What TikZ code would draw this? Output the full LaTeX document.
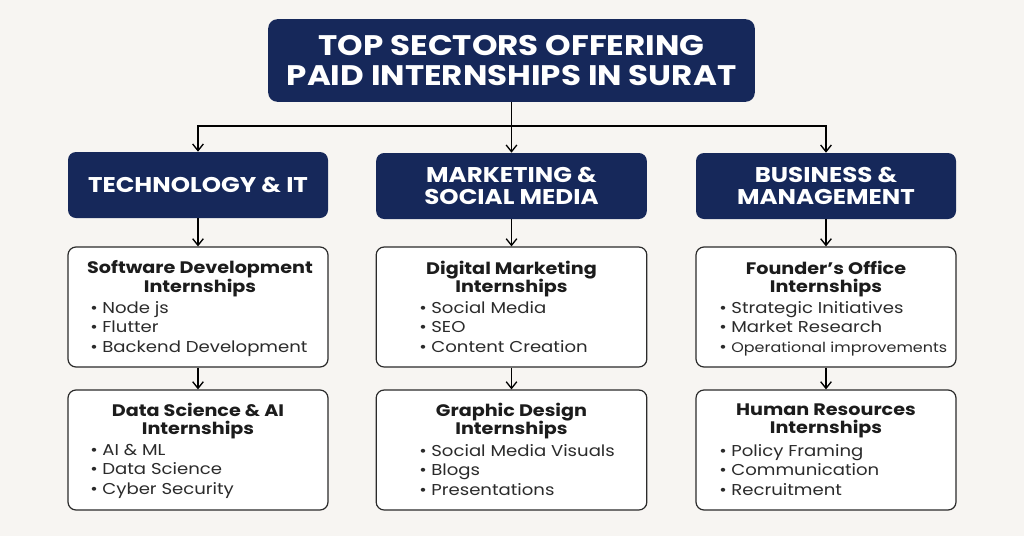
\documentclass[tikz,border=0pt]{standalone}
\usepackage{fontspec}
\setmainfont{Poppins}[FakeStretch=1.15]
\usetikzlibrary{arrows.meta}
\definecolor{navy}{HTML}{16285A}
\definecolor{bg}{HTML}{F7F5F2}
\definecolor{txt}{HTML}{2B2B2B}
\definecolor{head}{HTML}{1C1C1C}
\newcommand{\bul}{•\hspace{3.5pt}}
\begin{document}
\begin{tikzpicture}[x=0.75pt,y=-0.75pt,
  titlebox/.style={fill=navy,rounded corners=7pt,text=white,font=\bfseries\fontsize{21.2}{23}\selectfont,align=center,inner sep=0pt},
  catbox/.style={fill=navy,rounded corners=6pt,text=white,font=\bfseries\fontsize{16}{16.2}\selectfont,align=center,inner sep=0pt,minimum height=49.5pt},
  itembox/.style={draw=txt,line width=0.9pt,fill=white,rounded corners=6pt,minimum width=195pt,minimum height=90pt,inner sep=0pt},
  headtxt/.style={font=\bfseries\fontsize{12.5}{14}\selectfont,text=head,align=center,inner sep=0pt},
  listtxt/.style={font=\fontsize{11.8}{14.6}\selectfont,text=txt,align=left,inner sep=0pt,anchor=north west},
  arr/.style={draw=black,line width=1pt,-{Straight Barb[length=5pt,width=8pt]}}
]
\fill[bg] (0,0) rectangle (1024,536);
\useasboundingbox (0,0) rectangle (1024,536);

\node[titlebox,minimum width=365pt,minimum height=62pt] (title) at (511.5,60.5) {TOP SECTORS OFFERING\\PAID INTERNSHIPS IN SURAT};

\node[catbox,minimum width=195pt] (cat1) at (198,185) {TECHNOLOGY \& IT};
\node[catbox,minimum width=203pt] (cat2) at (511.5,186) {MARKETING \&\\SOCIAL MEDIA};
\node[catbox,minimum width=195pt] (cat3) at (826,186) {BUSINESS \&\\MANAGEMENT};

\coordinate (hub) at (511.5,126);
\draw[arr] (title) -- (cat2);
\draw[arr] (hub) -| (cat1);
\draw[arr] (hub) -| (cat3);

% row 1
\node[itembox] (a1) at (198,307) {};
\node[itembox,minimum width=203pt] (b1) at (511.5,307) {};
\node[itembox] (c1) at (826,307) {};
% row 2
\node[itembox] (a2) at (198,450) {};
\node[itembox,minimum width=203pt] (b2) at (511.5,450) {};
\node[itembox] (c2) at (826,450) {};

\draw[arr] (cat1) -- (a1);
\draw[arr] (cat2.south) -- (b1);
\draw[arr] (cat3.south) -- (c1);
\draw[arr] (a1) -- (a2);
\draw[arr] (b1) -- (b2);
\draw[arr] (c1) -- (c2);

% headings
\node[headtxt] (ha1) at (200,279) {Software Development\\Internships};
\node[headtxt] (hb1) at (511.5,279) {Digital Marketing\\Internships};
\node[headtxt] (hc1) at (826,279) {Founder’s Office\\Internships};
\node[headtxt] (ha2) at (198,421) {Data Science \& AI\\Internships};
\node[headtxt] (hb2) at (511.5,421) {Graphic Design\\Internships};
\node[headtxt] (hc2) at (826,421) {Human Resources\\Internships};

% lists
\node[listtxt] (la1) at (90,301) {\bul Node js\\\bul Flutter\\\bul Backend Development};
\node[listtxt] (lb1) at (419,301) {\bul Social Media\\\bul SEO\\\bul Content Creation};
\node[listtxt] (lc1) at (719,301) {\bul Strategic Initiatives\\\bul Market Research\\\bul{\fontsize{10.4}{14.6}\selectfont Operational improvements}};
\node[listtxt] (la2) at (90,444) {\bul AI \& ML\\\bul Data Science\\\bul Cyber Security};
\node[listtxt] (lb2) at (419,444) {\bul Social Media Visuals\\\bul Blogs\\\bul Presentations};
\node[listtxt] (lc2) at (719,444) {\bul Policy Framing\\\bul Communication\\\bul Recruitment};
\end{tikzpicture}
\end{document}
